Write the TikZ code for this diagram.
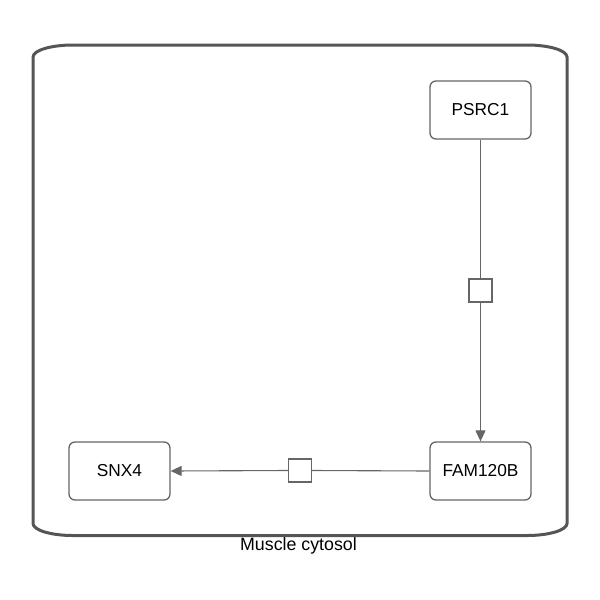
\documentclass[tikz,border=0pt]{standalone}
\usepackage{fontspec}
\setmainfont{Liberation Sans}
\usetikzlibrary{arrows.meta}
\definecolor{edgegray}{HTML}{666666}
\definecolor{compgray}{HTML}{555555}
\begin{document}
\begin{tikzpicture}[x=1pt,y=-1pt,
  entity/.style={draw=edgegray, line width=1.3pt, rounded corners=6pt, fill=white,
    minimum width=101pt, minimum height=58pt, inner sep=0pt, font=\fontsize{17.3}{19}\selectfont},
  procnode/.style={draw=edgegray, line width=1.1pt, fill=white, minimum size=23pt, inner sep=0pt},
  link/.style={draw=edgegray, line width=1.1pt},
  arr/.style={link, -{Triangle[length=11pt,width=10pt]}}
]
\useasboundingbox (0,0) rectangle (600,600);
% compartment
\draw[compgray, line width=3pt]
  (33,57) -- (33,523.5)
  arc[start angle=180, end angle=90, x radius=40, y radius=12] -- (527,535.5)
  arc[start angle=90, end angle=0, x radius=40, y radius=12] -- (567,57)
  arc[start angle=0, end angle=-90, x radius=40, y radius=12] -- (73,45)
  arc[start angle=270, end angle=180, x radius=40, y radius=12] -- cycle;
\node[font=\fontsize{17.8}{19}\selectfont] (lbl) at (298.5,546) {Muscle cytosol};
% nodes
\node[entity] (psrc1) at (480.5,110) {PSRC1};
\node[entity] (fam) at (480.5,471) {FAM120B};
\node[entity] (snx4) at (119.5,471) {SNX4};
\node[procnode] (p1) at (480.5,290.5) {};
\node[procnode] (p2) at (300,470.5) {};
% edges
\draw[link] (psrc1.south) -- (p1.north);
\draw[arr] (p1.south) -- (fam.north);
\draw[link] (fam.west) -- (p2.east);
\draw[arr] (p2.west) -- (snx4.east);
\end{tikzpicture}
\end{document}
